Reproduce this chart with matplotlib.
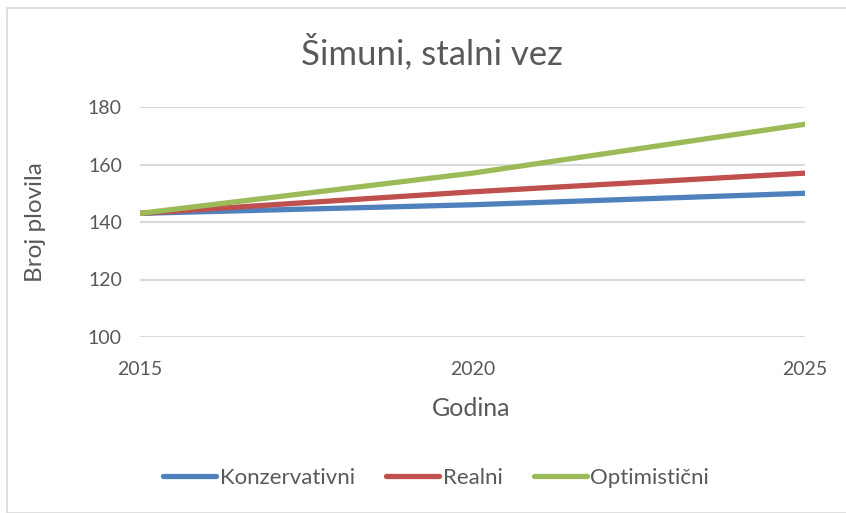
import matplotlib.pyplot as plt
from matplotlib.patches import Rectangle

years = [2015, 2020, 2025]
konzervativni = [143, 146, 150]
realni = [143, 150.5, 157]
optimisticni = [143, 157, 174]

plt.rcParams['font.family'] = ['Lato', 'DejaVu Sans']
txt = '#595959'
W, H = 846, 513

fig = plt.figure(figsize=(8.46, 5.13), dpi=100)
ax = fig.add_axes([140 / W, 1 - 337 / H, 665 / W, 230 / H])

# outer chart border
fig.patches.append(Rectangle((7 / W, 0), 1.0, 1 - 8 / H, transform=fig.transFigure,
                             fill=False, edgecolor='#D9D9D9', linewidth=1.2))

ax.plot(years, konzervativni, color='#4F81BD', lw=3.8, label='Konzervativni', solid_capstyle='round')
ax.plot(years, realni, color='#C0504D', lw=3.8, label='Realni', solid_capstyle='round')
ax.plot(years, optimisticni, color='#9BBB59', lw=3.8, label='Optimistični', solid_capstyle='round')

ax.set_xlim(2015, 2025)
ax.set_ylim(100, 180)
ax.set_xticks(years)
ax.set_yticks(range(100, 181, 20))
ax.grid(axis='y', color='#D9D9D9', lw=1.5)
ax.set_axisbelow(True)
for s in ax.spines.values():
    s.set_visible(False)
ax.tick_params(length=0, colors=txt, labelsize=14)
ax.tick_params(axis='x', pad=17)
ax.tick_params(axis='y', pad=13)

fig.text(432 / W, 1 - 52 / H, 'Šimuni, stalni vez', fontsize=25, color=txt, ha='center', va='center')
fig.text(471 / W, 1 - 408 / H, 'Godina', fontsize=18, color=txt, ha='center', va='center')
fig.text(36 / W, 1 - 222 / H, 'Broj plovila', fontsize=17.5, color=txt, ha='center', va='center',
         rotation=90)

fig.legend(loc='center', bbox_to_anchor=(436 / W, 1 - 478 / H), ncol=3, frameon=False,
           fontsize=16, labelcolor=txt, handlelength=2.4, handletextpad=0.15, columnspacing=1.4)

fig.savefig('out.png', dpi=100)
